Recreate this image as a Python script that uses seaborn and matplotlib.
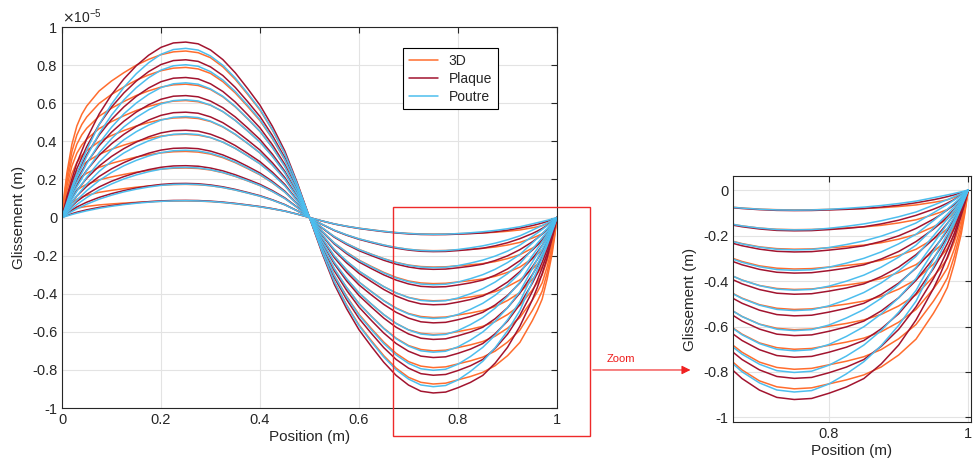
import matplotlib
matplotlib.use("Agg")
import matplotlib.pyplot as plt
from matplotlib.patches import Rectangle
from matplotlib.ticker import FuncFormatter
import pandas as pd
import seaborn as sns

# Positions along the beam (m)
position = [0, 0.005, 0.01, 0.02, 0.03, 0.04, 0.05, 0.075, 0.1, 0.125, 0.15, 0.175, 0.2,
            0.225, 0.25, 0.275, 0.3, 0.325, 0.35, 0.375, 0.4, 0.425, 0.45, 0.475, 0.5,
            0.525, 0.55, 0.575, 0.6, 0.625, 0.65, 0.675, 0.7, 0.725, 0.75, 0.775, 0.8,
            0.825, 0.85, 0.875, 0.9, 0.925, 0.95, 0.96, 0.97, 0.98, 0.99, 0.995, 1]

# Normalised slip profile of each model
profil_3d = [0, 0.15, 0.27, 0.44, 0.55, 0.62, 0.67, 0.76, 0.82, 0.87, 0.915, 0.95, 0.978,
             0.995, 1.0, 0.99, 0.96, 0.905, 0.83, 0.74, 0.645, 0.525, 0.385, 0.205, 0,
             -0.205, -0.385, -0.525, -0.645, -0.74, -0.83, -0.905, -0.96, -0.99, -1.0, -0.995, -0.975,
             -0.955, -0.93, -0.89, -0.83, -0.75, -0.62, -0.56, -0.49, -0.37, -0.22, -0.12, 0]
profil_plaque = [0, 0.06, 0.12, 0.22, 0.31, 0.38, 0.45, 0.59, 0.70, 0.79, 0.865, 0.925, 0.97,
                 0.995, 1.0, 0.99, 0.955, 0.9, 0.825, 0.735, 0.64, 0.52, 0.38, 0.2, 0,
                 -0.2, -0.38, -0.52, -0.64, -0.735, -0.825, -0.9, -0.955, -0.99, -1.0, -0.995, -0.97,
                 -0.94, -0.9, -0.83, -0.74, -0.62, -0.47, -0.40, -0.32, -0.23, -0.12, -0.065, 0]
profil_poutre = [0, 0.045, 0.09, 0.18, 0.26, 0.33, 0.40, 0.55, 0.67, 0.77, 0.85, 0.915, 0.965,
                 0.993, 1.0, 0.99, 0.955, 0.9, 0.825, 0.735, 0.64, 0.52, 0.38, 0.2, 0,
                 -0.2, -0.38, -0.52, -0.64, -0.735, -0.825, -0.9, -0.955, -0.99, -1.0, -0.993, -0.96,
                 -0.91, -0.85, -0.77, -0.67, -0.55, -0.38, -0.31, -0.24, -0.165, -0.085, -0.043, 0]

# Peak slip for each load level (x 1e-5 m)
ampl_3d = [0.087, 0.174, 0.260, 0.347, 0.437, 0.525, 0.614, 0.700, 0.788, 0.874]
ampl_plaque = [0.090, 0.179, 0.272, 0.365, 0.458, 0.553, 0.640, 0.735, 0.828, 0.921]
ampl_poutre = [0.088, 0.175, 0.263, 0.353, 0.440, 0.530, 0.618, 0.707, 0.802, 0.888]

modeles = ["3D", "Plaque", "Poutre"]
couleurs = {"3D": "#ff6d2e", "Plaque": "#a2142f", "Poutre": "#4dbeee"}

rows = []
for nom, profil, ampl in [("3D", profil_3d, ampl_3d),
                          ("Plaque", profil_plaque, ampl_plaque),
                          ("Poutre", profil_poutre, ampl_poutre)]:
    for niveau, a in enumerate(ampl):
        for xp, s in zip(position, profil):
            rows.append({"x": xp, "g": a * s, "modele": nom, "niveau": niveau})
df = pd.DataFrame(rows)

sns.set_theme(style="white")
plt.rcParams["font.family"] = ["Liberation Sans", "DejaVu Sans"]
plt.rcParams["axes.edgecolor"] = "#262626"

fig = plt.figure(figsize=(9.75, 4.7), dpi=100)
ax = fig.add_axes([0.0636, 0.1319, 0.5077, 0.8106])
axz = fig.add_axes([0.7518, 0.1021, 0.2441, 0.5234])

fmt = FuncFormatter(lambda v, _: f"{round(v, 2) + 0:g}")

for a in (ax, axz):
    sns.lineplot(data=df, x="x", y="g", hue="modele", hue_order=modeles, units="niveau",
                 estimator=None, sort=False, palette=couleurs, lw=1.1, ax=a,
                 legend=(a is ax))
    a.grid(True, color="#e3e3e3", lw=0.8)
    a.set_axisbelow(True)
    a.tick_params(direction="in", top=True, right=True, length=4, width=0.8,
                  colors="#262626", labelsize=10.5)
    for sp in a.spines.values():
        sp.set_linewidth(0.8)
        sp.set_color("#262626")
    a.xaxis.set_major_formatter(fmt)
    a.yaxis.set_major_formatter(fmt)
    a.set_xlabel("Position (m)", fontsize=11, color="#262626")
    a.set_ylabel("Glissement (m)", fontsize=11, color="#262626")

ax.set_xlim(0, 1)
ax.set_ylim(-1, 1)
ax.set_xticks([0, 0.2, 0.4, 0.6, 0.8, 1])
ax.set_yticks([-1, -0.8, -0.6, -0.4, -0.2, 0, 0.2, 0.4, 0.6, 0.8, 1])
ax.xaxis.labelpad = 2
ax.yaxis.labelpad = 4
ax.text(0.0, 1.003, r"$\times\mathregular{10^{-5}}$", transform=ax.transAxes,
        ha="left", va="bottom", fontsize=10, color="#262626")

handles, labels = ax.get_legend_handles_labels()
ax.legend(handles, labels, loc="upper left", bbox_to_anchor=(0.689, 0.945),
          borderaxespad=0, fontsize=10, frameon=True, fancybox=False,
          edgecolor="black", framealpha=1, handlelength=2.1, labelspacing=0.3,
          borderpad=0.4, handletextpad=0.8)
ax.get_legend().get_frame().set_linewidth(0.8)

axz.set_xlim(0.662, 1.004)
axz.set_ylim(-1.02, 0.062)
axz.set_xticks([0.8, 1])
axz.set_yticks([-1, -0.8, -0.6, -0.4, -0.2, 0])
axz.xaxis.labelpad = 2

# zoom frame and arrow
fig.add_artist(Rectangle((0.4031, 0.0723), 0.2021, 0.4872, transform=fig.transFigure,
                         fill=False, ec="#ee2a2a", lw=1.0))
ax.annotate("", xy=(0.711, 0.2128), xytext=(0.6051, 0.2128), xycoords="figure fraction",
            textcoords="figure fraction", annotation_clip=False,
            arrowprops=dict(arrowstyle="-|>", color="#f02020", lw=0.8, mutation_scale=13))
fig.text(0.637, 0.226, "Zoom", color="#ee1c1c", fontsize=8, ha="center", va="bottom")

fig.savefig("out.png", dpi=100)
